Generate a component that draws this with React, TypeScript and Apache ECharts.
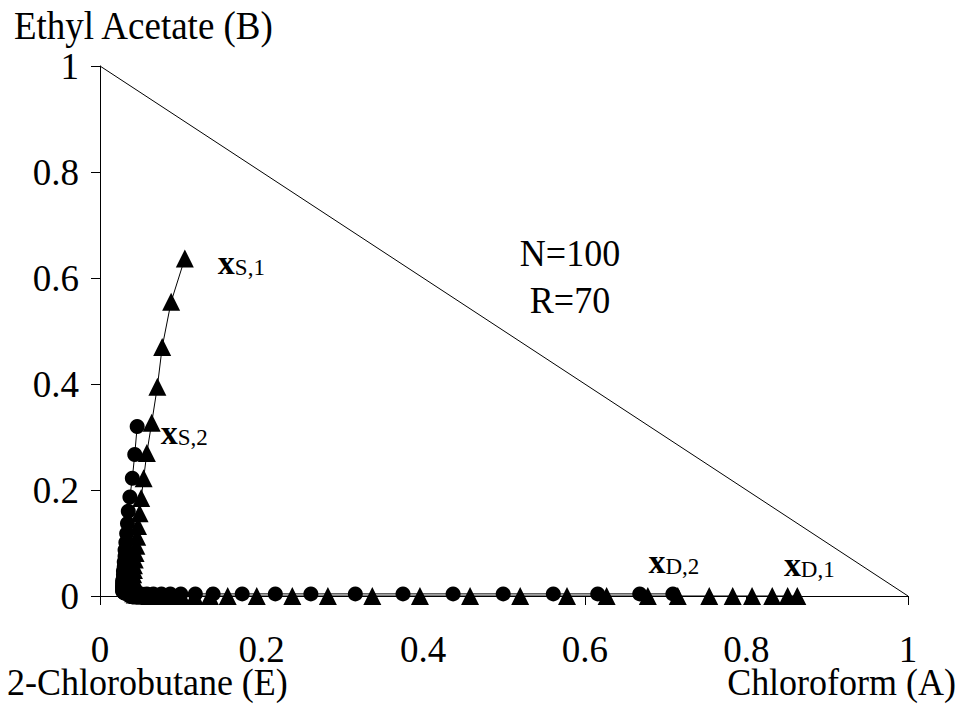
import React, { useEffect, useRef } from "react";
import * as echarts from "echarts";

const serif = "'Liberation Serif', 'Times New Roman', serif";

// Profile 1 (triangles): stage compositions from xS,1 down the column, through the pinch, out to xD,1
const chloroform1 = [
  0.105, 0.088, 0.077, 0.071, 0.064, 0.058, 0.054, 0.051, 0.049, 0.047,
  0.046, 0.045, 0.044, 0.043, 0.042, 0.042, 0.041, 0.041, 0.040, 0.040,
  0.040, 0.040, 0.040, 0.040, 0.041, 0.043, 0.046, 0.050, 0.055, 0.061,
  0.068, 0.077, 0.088, 0.101, 0.117, 0.136, 0.158, 0.194, 0.238, 0.282,
  0.337, 0.396, 0.458, 0.520, 0.578, 0.627, 0.678, 0.715, 0.754, 0.783,
  0.807, 0.832, 0.851, 0.863,
];
const ethylAcetate1 = [
  0.637, 0.555, 0.470, 0.395, 0.327, 0.270, 0.222, 0.185, 0.156, 0.132,
  0.112, 0.095, 0.081, 0.069, 0.058, 0.049, 0.041, 0.034, 0.028, 0.023,
  0.018, 0.014, 0.011, 0.008, 0.005, 0.003, 0.002, 0.001, 0.001, 0.0,
  0.0, 0.0, 0.0, 0.0, 0.0, 0.0, 0.0, 0.0, 0.0, 0.0,
  0.0, 0.0, 0.0, 0.0, 0.0, 0.0, 0.0, 0.0, 0.0, 0.0,
  0.0, 0.0, 0.0, 0.0,
];

// Profile 2 (circles): from xS,2 down the column, through the pinch, out to xD,2
const chloroform2 = [
  0.046, 0.043, 0.040, 0.037, 0.035, 0.034, 0.033, 0.032, 0.031, 0.031,
  0.030, 0.030, 0.029, 0.029, 0.029, 0.028, 0.028, 0.028, 0.028, 0.028,
  0.028, 0.028, 0.029, 0.030, 0.031, 0.033, 0.036, 0.040, 0.045, 0.051,
  0.058, 0.066, 0.076, 0.087, 0.100, 0.118, 0.140, 0.176, 0.217, 0.261,
  0.316, 0.375, 0.437, 0.499, 0.561, 0.616, 0.668, 0.709,
];
const ethylAcetate2 = [
  0.320, 0.267, 0.222, 0.187, 0.160, 0.137, 0.118, 0.101, 0.087, 0.075,
  0.064, 0.055, 0.047, 0.040, 0.034, 0.029, 0.024, 0.020, 0.017, 0.014,
  0.011, 0.009, 0.007, 0.006, 0.005, 0.005, 0.004, 0.004, 0.004, 0.004,
  0.004, 0.004, 0.004, 0.004, 0.004, 0.004, 0.004, 0.004, 0.004, 0.004,
  0.004, 0.004, 0.004, 0.004, 0.004, 0.004, 0.004, 0.004,
];

// A–B edge of the composition triangle
const edgeChloroform = [0, 1];
const edgeEthylAcetate = [1, 0];

const tickLabels = ["0", "0.2", "0.4", "0.6", "0.8", "1"];

const richLabel = {
  b: { fontFamily: serif, fontWeight: "bold", fontSize: 34, color: "#000", verticalAlign: "bottom" },
  s: { fontFamily: serif, fontSize: 23, color: "#000", verticalAlign: "bottom" },
};

function endLabel(sub: string, position: string, distance: number, offset: number[]) {
  return {
    show: true,
    position,
    distance,
    offset,
    formatter: `{b|x}{s|${sub}}`,
    rich: richLabel,
  };
}

function buildData(xs: number[], ys: number[], first: any, last: any) {
  return xs.map((x, i) => {
    const item: any = { value: [x, ys[i]] };
    if (i === 0) item.label = first;
    if (i === xs.length - 1) item.label = last;
    return item;
  });
}

// Free-standing text, slightly stretched vertically like the axis lettering
function caption(text: string, x: number, y: number, align: string, fontSize = 36) {
  return {
    type: "text",
    x,
    y,
    scaleY: 1.08,
    silent: true,
    style: {
      text,
      fontFamily: serif,
      fontSize,
      fill: "#000",
      align,
      verticalAlign: "middle",
    },
  };
}

export default function App() {
  const ref = useRef<HTMLDivElement>(null);

  useEffect(() => {
    if (!ref.current) return;
    const chart = echarts.init(ref.current, null, { renderer: "svg" });

    const axisCommon = {
      type: "value" as const,
      min: 0,
      max: 1,
      interval: 0.2,
      splitLine: { show: false },
      axisLine: { show: true, lineStyle: { color: "#000", width: 1 } },
      axisTick: { show: true, length: 9, inside: false, lineStyle: { color: "#000", width: 1 } },
      axisLabel: {
        color: "#000",
        fontFamily: serif,
        fontSize: 37,
        formatter: (v: number) => tickLabels[Math.round(v / 0.2)],
      },
    };

    chart.setOption({
      animation: false,
      backgroundColor: "#fff",
      grid: { left: 100, right: 55, top: 66, bottom: 110, containLabel: false },
      xAxis: {
        ...axisCommon,
        axisLabel: { ...axisCommon.axisLabel, margin: 35 },
      },
      yAxis: {
        ...axisCommon,
        axisLabel: { ...axisCommon.axisLabel, margin: 21 },
      },
      series: [
        {
          name: "A–B edge",
          type: "line",
          data: edgeChloroform.map((x, i) => [x, edgeEthylAcetate[i]]),
          symbol: "none",
          lineStyle: { color: "#000", width: 1 },
          silent: true,
          z: 1,
        },
        {
          name: "Profile 1",
          type: "line",
          data: buildData(
            chloroform1,
            ethylAcetate1,
            endLabel("S,1", "right", 24, [0, 4]),
            endLabel("D,1", "top", 6, [12, 0])
          ),
          symbol: "triangle",
          symbolSize: 18,
          showAllSymbol: true,
          itemStyle: { color: "#000" },
          lineStyle: { color: "#000", width: 1 },
          silent: true,
          z: 3,
        },
        {
          name: "Profile 2",
          type: "line",
          data: buildData(
            chloroform2,
            ethylAcetate2,
            endLabel("S,2", "right", 16, [0, 6]),
            endLabel("D,2", "top", 8, [1, 0])
          ),
          symbol: "circle",
          symbolSize: 15,
          showAllSymbol: true,
          itemStyle: { color: "#000" },
          lineStyle: { color: "#000", width: 1 },
          silent: true,
          z: 2,
        },
      ],
      graphic: [
        caption("Ethyl Acetate (B)", 14, 26, "left", 37),
        caption("2-Chlorobutane (E)", 7, 682, "left"),
        caption("Chloroform (A)", 956, 682, "right"),
        caption("N=100", 570, 253, "center"),
        caption("R=70", 570, 300, "center"),
      ],
    });

    return () => chart.dispose();
  }, []);

  return (
    <div
      ref={ref}
      style={{ position: "absolute", left: 0, top: 0, width: 963, height: 706 }}
    />
  );
}
